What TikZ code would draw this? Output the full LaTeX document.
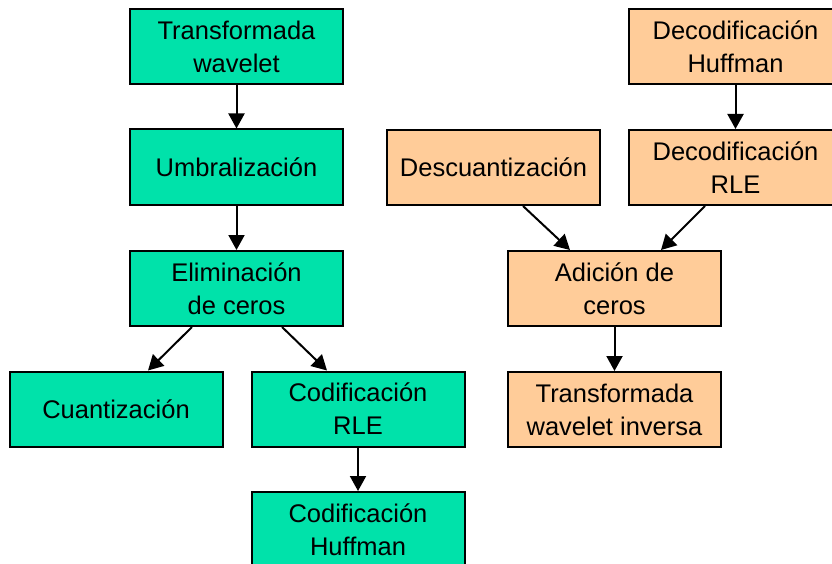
\documentclass[tikz,border=0pt]{standalone}
\usepackage{fontspec}
\setmainfont{Liberation Sans}
\usepackage{tikz}
\usetikzlibrary{arrows.meta,positioning}
\definecolor{verde}{RGB}{0,226,170}
\definecolor{naranja}{RGB}{255,204,153}

\begin{document}
\begin{tikzpicture}[x=1pt,y=-1pt,
  caja/.style={draw=black,line width=2pt,minimum width=213pt,minimum height=75pt,
    inner sep=0pt,align=center,font=\fontsize{25.5}{33}\selectfont},
  cajaverde/.style={caja,fill=verde},
  cajanaranja/.style={caja,fill=naranja},
  flecha/.style={line width=2pt,-{Triangle[width=16pt,length=15pt]}}]

\clip (0,0) rectangle (832,564);
\fill[white] (0,0) rectangle (832,564);

% compresion
\node[cajaverde] (tw) at (236.5,47) {Transformada\\wavelet};
\node[cajaverde] (umb) at (236.5,167) {Umbralización};
\node[cajaverde] (elim) at (236.5,288.5) {Eliminación\\de ceros};
\node[cajaverde] (cuant) at (116,409) {Cuantización};
\node[cajaverde] (codrle) at (358,409) {Codificación\\RLE};
\node[cajaverde] (codhuf) at (358,529.5) {Codificación\\Huffman};

\draw[flecha] (tw) -- (umb);
\draw[flecha] (umb) -- (elim);
\draw[flecha] ([xshift=-44.5pt]elim.south) -- ([xshift=32pt]cuant.north);
\draw[flecha] ([xshift=45.5pt]elim.south) -- ([xshift=-31pt]codrle.north);
\draw[flecha] (codrle) -- (codhuf);

% descompresion
\node[cajanaranja] (dhuf) at (735.5,47) {Decodificación\\Huffman};
\node[cajanaranja] (desc) at (493.5,167.5) {Descuantización};
\node[cajanaranja] (drle) at (735.5,167.5) {Decodificación\\RLE};
\node[cajanaranja] (adic) at (614.5,288.5) {Adición de\\ceros};
\node[cajanaranja] (twinv) at (614.5,409.5) {Transformada\\wavelet inversa};

\draw[flecha] (dhuf) -- (drle);
\draw[flecha] ([xshift=29.5pt]desc.south) -- ([xshift=-44.5pt]adic.north);
\draw[flecha] ([xshift=-30.5pt]drle.south) -- ([xshift=46.5pt]adic.north);
\draw[flecha] (adic) -- (twinv);

\end{tikzpicture}
\end{document}
